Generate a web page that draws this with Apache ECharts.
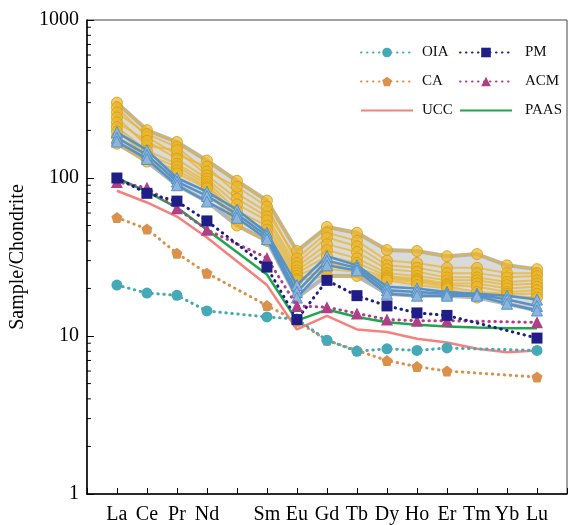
<!DOCTYPE html>
<html><head><meta charset="utf-8">
<script src="https://cdn.jsdelivr.net/npm/echarts@6/dist/echarts.min.js"></script>
<style>html,body{margin:0;padding:0;background:#fff}#c{width:570px;height:525px}</style>
</head><body><div id="c"></div>
<script>
const elements = ['La','Ce','Pr','Nd','Pm','Sm','Eu','Gd','Tb','Dy','Ho','Er','Tm','Yb','Lu'];
const tickLabels = ['La','Ce','Pr','Nd','','Sm','Eu','Gd','Tb','Dy','Ho','Er','Tm','Yb','Lu'];
const yTicks = [1, 10, 100, 1000];
const minorTicks = [2,3,4,5,6,7,8,9,20,30,40,50,60,70,80,90,200,300,400,500,600,700,800,900];

const OIA  = [21.0, 18.7, 18.1, 14.4, null, 13.2, 12.8, 9.4, 8.0, 8.3, 8.1, 8.4, null, null, 8.1];
const CA   = [56.2, 47.6, 33.4, 25.0, null, 15.6, 12.4, 9.4, 8.1, 7.0, 6.4, 6.0, null, null, 5.5];
const PM   = [100, 80, 71.4, 53.5, null, 27.3, 12.7, 22.5, 18.0, 15.5, 14.0, 13.5, null, null, 9.7];
const ACM  = [94.5, 86.7, 64.3, 47, null, 31.2, 15.5, 15.2, 13.9, 12.7, 12.5, 12.5, null, null, 12.2];
const UCC  = [83, 70, 57, 42, null, 21, 11.0, 13.4, 11.0, 10.6, 9.6, 9.1, 8.3, 7.9, 8.1];
const PAAS = [100, 82, 65, 47, null, 24.5, 12.5, 14.7, 13.2, 12.2, 11.8, 11.5, 11.3, 11.2, 11.2];

const Y1 = [300, 201, 169, 129, 96, 72, 34.5, 49, 45, 35, 34.5, 32, 33, 28, 26.5];
const Y2 = [280, 182, 140, 118, 80, 61, 31, 45, 40, 30, 29, 27, 27, 25, 25];
const Y3 = [260, 190, 157, 110, 88, 66, 29, 42, 37, 28, 27, 25, 25, 23.5, 24];
const Y4 = [242, 160, 150, 104, 74, 57, 27.5, 38, 34, 26.5, 25.5, 23.5, 23.5, 22, 22.5];
const Y5 = [225, 172, 132, 99, 68, 54, 26, 35, 31, 25, 24, 22.5, 22.5, 21, 21.5];
const Y6 = [210, 149, 123, 95, 62, 50, 25, 32, 29, 24, 23, 21.5, 21.5, 20, 20.5];
const Y7 = [197, 140, 118, 91, 58, 47, 24, 29, 27, 23.5, 22.5, 21, 20.5, 19, 19.5];
const Y8 = [182, 132, 112, 88, 54, 44, 23, 26.5, 25.5, 23, 22, 20.5, 19, 18.5, 18.5];
const Y9 = [165, 127, 107, 86, 50, 40, 22.5, 24, 24, 22.5, 21, 20, 17.5, 18, 17.5];
const B1 = [195, 150, 100, 82, 63, 45, 21, 32, 28, 20.5, 20, 19, 18.5, 18, 17];
const B2 = [180, 140, 95, 77, 59, 43, 19, 30, 27, 19.5, 19, 18.5, 18.3, 17, 15.5];
const B3 = [170, 132, 90, 71, 56, 41, 17.5, 28, 26, 18.5, 18, 18, 18, 16, 14.5];

const yellowSamples = [Y1,Y2,Y3,Y4,Y5,Y6,Y7,Y8,Y9];
const blueSamples = [B1,B2,B3];
const allSamples = yellowSamples.concat(blueSamples);
const envMax = elements.map((_, i) => Math.max(...allSamples.map(s => s[i])));
const envMin = elements.map((_, i) => Math.min(...allSamples.map(s => s[i])));

const FONT = '"Liberation Serif", "Times New Roman", serif';
const toXY = arr => arr.map((v, i) => [i, v]);
const pentagon = 'path://M0,-10 L9.51,-3.09 L5.88,8.09 L-5.88,8.09 L-9.51,-3.09 Z';

const series = [];
series.push({
  type: 'custom', name: 'env', silent: true, z: 1,
  data: [[0, 10]],
  renderItem: function (params, api) {
    const pts = [];
    for (let i = 0; i < elements.length; i++) pts.push(api.coord([i, envMax[i]]));
    for (let i = elements.length - 1; i >= 0; i--) pts.push(api.coord([i, envMin[i]]));
    return { type: 'polygon', shape: { points: pts },
      style: { fill: 'rgba(205,205,205,0.75)', stroke: 'rgba(175,175,175,0.9)', lineWidth: 4, lineJoin: 'round' } };
  }
});
series.push({
  type: 'custom', name: 'minor', silent: true, z: 10, clip: false,
  data: minorTicks.map(v => [-1, v]),
  renderItem: function (params, api) {
    const p = api.coord([-1, api.value(1)]);
    return { type: 'line', shape: { x1: p[0], y1: p[1], x2: p[0] + 4, y2: p[1] }, style: { stroke: '#000', lineWidth: 1 } };
  }
});
yellowSamples.forEach((s, k) => series.push({
  type: 'line', name: 'Y' + (k + 1), data: toXY(s), z: 3,
  symbol: 'circle', symbolSize: 11,
  lineStyle: { color: 'rgba(233,180,40,0.7)', width: 2 },
  itemStyle: { color: 'rgba(234,183,45,0.72)', borderColor: 'rgba(215,160,20,0.85)', borderWidth: 1 }
}));
blueSamples.forEach((s, k) => series.push({
  type: 'line', name: 'B' + (k + 1), data: toXY(s), z: 4,
  symbol: 'triangle', symbolSize: 11,
  lineStyle: { color: '#5592C8', width: 2.5 },
  itemStyle: { color: '#8DB5DC', borderColor: '#5592C8', borderWidth: 1 }
}));
function refLine(name, data, color, symbol, size, dotted) {
  return {
    type: 'line', name: name, data: toXY(data), connectNulls: true, z: 6,
    symbol: symbol, symbolSize: size, showSymbol: symbol !== 'none',
    lineStyle: { color: color, width: dotted ? 3 : 2.5, type: dotted ? [0.5, 5.5] : 'solid', cap: dotted ? 'round' : 'butt' },
    itemStyle: { color: color }
  };
}
series.push(refLine('UCC', UCC, '#F4827C', 'none', 0, false));
series.push(refLine('PAAS', PAAS, '#1FA64A', 'none', 0, false));
series.push(refLine('CA', CA, '#D9914C', pentagon, 11, true));
series.push(refLine('OIA', OIA, '#45A9B7', 'circle', 11, true));
series.push(refLine('ACM', ACM, '#B03F88', 'triangle', 12, true));
series.push(refLine('PM', PM, '#1E1E86', 'rect', 11, true));

const legendBase = {
  orient: 'vertical', top: 40, itemWidth: 52, itemHeight: 12, itemGap: 14,
  textStyle: { fontFamily: FONT, fontSize: 15, color: '#111', padding: [0, 0, 0, 4] }
};

const chart = echarts.init(document.getElementById('c'), null, { renderer: 'canvas' });
chart.setOption({
  animation: false,
  backgroundColor: '#fff',
  grid: { left: 73, right: 2, top: 20, bottom: 27, show: true, borderColor: '#444', borderWidth: 1, backgroundColor: 'transparent' },
  legend: [
    Object.assign({}, legendBase, { left: 355, data: ['OIA', 'CA', { name: 'UCC', itemStyle: { opacity: 0 } }] }),
    Object.assign({}, legendBase, { left: 454, data: ['PM', 'ACM', { name: 'PAAS', itemStyle: { opacity: 0 } }],
      textStyle: Object.assign({}, legendBase.textStyle, { padding: [0, 0, 0, 8] }) })
  ],
  xAxis: {
    type: 'value', min: -1, max: 15, interval: 1, z: 10,
    axisLine: { onZero: false, lineStyle: { color: '#000', width: 1.5 } },
    axisTick: { inside: true, length: 6, lineStyle: { color: '#000' } },
    axisLabel: { fontFamily: FONT, fontSize: 20, color: '#000', margin: 11,
      formatter: v => (v >= 0 && v < tickLabels.length) ? tickLabels[v] : '' },
    splitLine: { show: false }
  },
  yAxis: {
    type: 'log', logBase: 10, min: 1, max: 1000, z: 10,
    name: 'Sample/Chondrite', nameLocation: 'middle', nameGap: 34,
    nameTextStyle: { fontFamily: FONT, fontSize: 20, color: '#000' },
    axisLine: { onZero: false, lineStyle: { color: '#000', width: 1.5 } },
    axisTick: { inside: true, length: 7, lineStyle: { color: '#000' } },
    axisLabel: { fontFamily: FONT, fontSize: 20, color: '#000', margin: 8,
      formatter: v => yTicks.includes(Math.round(v)) ? String(Math.round(v)) : '' },
    splitLine: { show: false }
  },
  series: series
});
</script></body></html>
